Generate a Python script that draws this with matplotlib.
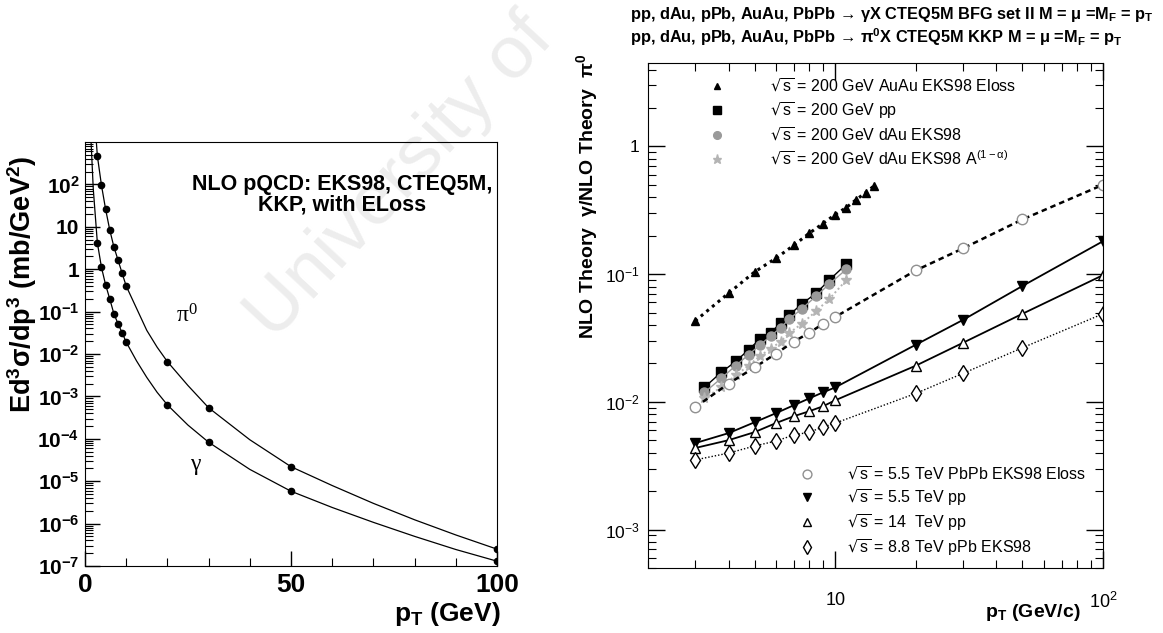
import matplotlib
matplotlib.use('Agg')
import matplotlib.pyplot as plt
from matplotlib.lines import Line2D
from matplotlib.ticker import FixedLocator, LogLocator, NullFormatter, MultipleLocator
import numpy as np

plt.rcParams['font.family'] = ['Liberation Sans', 'DejaVu Sans']
plt.rcParams['mathtext.default'] = 'regular'

# ---- left panel: spectra (points and curve) ----
pt_pts = [3, 4, 5, 6, 7, 8, 9, 10, 20, 30, 50, 100]
pi0_pts = [470, 95, 26, 8.5, 3.4, 1.66, 0.81, 0.40, 6.6e-3, 5.4e-4, 2.2e-5, 2.5e-7]
gam_pts = [4.2, 1.1, 0.43, 0.20, 0.09, 0.052, 0.032, 0.019, 6.3e-4, 8.3e-5, 5.8e-6, 1.3e-7]

pt_curve_pi0 = [2, 3, 4, 5, 6, 7, 8, 9, 10, 12.5, 15, 17.5, 20, 25, 30, 40, 50, 60, 70, 80, 90, 100]
pi0_curve = [1e4, 470, 95, 26, 8.5, 3.4, 1.66, 0.81, 0.40, 0.12, 0.036, 0.0145, 6.6e-3, 1.8e-3,
             5.4e-4, 9.5e-5, 2.2e-5, 7.9e-6, 3.0e-6, 1.23e-6, 5.4e-7, 2.5e-7]
pt_curve_gam = [1, 2, 3, 4, 5, 6, 7, 8, 9, 10, 12.5, 15, 17.5, 20, 25, 30, 40, 50, 60, 70, 80, 90, 100]
gam_curve = [1e4, 80, 4.2, 1.1, 0.43, 0.20, 0.09, 0.052, 0.032, 0.019, 6.9e-3, 2.8e-3, 1.25e-3,
             6.3e-4, 2.1e-4, 8.3e-5, 1.9e-5, 5.8e-6, 2.4e-6, 1.07e-6, 5.0e-7, 2.45e-7, 1.3e-7]

# ---- right panel: ratios NLO gamma / NLO pi0 ----
pt_auau = [3, 4, 5, 6, 7, 8, 9, 10, 11, 12, 13, 14]
r_auau = [0.043, 0.071, 0.104, 0.133, 0.168, 0.209, 0.249, 0.293, 0.332, 0.384, 0.435, 0.493]

pt_200 = [3.25, 3.75, 4.25, 4.75, 5.25, 5.75, 6.25, 6.75, 7.5, 8.5, 9.5, 11]
r_pp200 = [0.0130, 0.0170, 0.0207, 0.0256, 0.0312, 0.0347, 0.0416, 0.0480, 0.0584, 0.0711, 0.0898, 0.1197]
r_dau = [0.01186, 0.01524, 0.0192, 0.0234, 0.0280, 0.0329, 0.0380, 0.0447, 0.0534, 0.0675, 0.0836, 0.109]
r_dau_a = [0.01064, 0.0130, 0.0161, 0.0192, 0.0230, 0.0261, 0.0296, 0.0347, 0.0408, 0.0515, 0.0638, 0.0898]

pt_lhc = [3, 4, 5, 6, 7, 8, 9, 10, 20, 30, 50, 100]
r_pbpb = [0.00906, 0.0139, 0.0186, 0.0238, 0.0296, 0.0347, 0.0408, 0.0462, 0.107, 0.159, 0.268, 0.501]
r_pp55 = [0.00475, 0.00569, 0.00692, 0.00814, 0.00940, 0.01064, 0.01186, 0.01297, 0.0280, 0.0438, 0.0807, 0.181]
r_pp14 = [0.00435, 0.00501, 0.00579, 0.00681, 0.00771, 0.00844, 0.00923, 0.01028, 0.0192, 0.0290, 0.0489, 0.0982]
r_ppb = [0.00351, 0.00397, 0.00451, 0.00493, 0.00549, 0.00579, 0.00634, 0.00681, 0.01164, 0.0167, 0.0265, 0.0489]

left_yticks = [1e-7, 1e-6, 1e-5, 1e-4, 1e-3, 1e-2, 1e-1, 1, 10, 1e2]
left_ylabels = ['10$^{-7}$', '10$^{-6}$', '10$^{-5}$', '10$^{-4}$', '10$^{-3}$',
                '10$^{-2}$', '10$^{-1}$', '1', '10', '10$^{2}$']
right_yticks = [1e-3, 1e-2, 1e-1, 1]
right_ylabels = ['10$^{-3}$', '10$^{-2}$', '10$^{-1}$', '1']

W, H = 1163, 633
fig = plt.figure(figsize=(W / 100, H / 100), dpi=100)

# watermark of the scanned page
fig.text(400 / W, 1 - 178 / H, 'University of', rotation=47, color='#ededed',
         fontsize=54, ha='center', va='center', zorder=-1)

# ================= left panel =================
ax = fig.add_axes([85 / W, 1 - 566 / H, 412 / W, 424 / H])
ax.set_facecolor('none')
ax.plot(pt_curve_pi0, pi0_curve, color='black', lw=0.9)
ax.plot(pt_curve_gam, gam_curve, color='black', lw=0.9)
ax.plot(pt_pts, pi0_pts, 'o', color='black', ms=4.5)
ax.plot(pt_pts, gam_pts, 'o', color='black', ms=4.5)
ax.set_yscale('log')
ax.set_xlim(0, 100)
ax.set_ylim(1e-7, 1e3)
ax.yaxis.set_major_locator(FixedLocator(left_yticks))
ax.set_yticklabels(left_ylabels)
ax.yaxis.set_minor_locator(LogLocator(base=10, subs=np.arange(2, 10), numticks=20))
ax.yaxis.set_minor_formatter(NullFormatter())
ax.set_xticks([0, 50, 100])
ax.set_xticklabels(['0', '50', '100'])
ax.xaxis.set_minor_locator(MultipleLocator(10))
ax.tick_params(which='both', direction='in', top=False, right=False)
ax.tick_params(which='major', length=11, width=1)
ax.tick_params(which='minor', length=6, width=0.8)
ax.tick_params(axis='y', which='major', labelsize=15, pad=4)
ax.tick_params(axis='x', which='major', labelsize=19, pad=5)
for lab in ax.get_xticklabels() + ax.get_yticklabels():
    lab.set_fontweight('bold')
ax.set_ylabel(r'Ed$^3\sigma$/dp$^3$ (mb/GeV$^2$)', fontsize=19.5, fontweight='bold')
ax.yaxis.set_label_coords(-0.112, 0.665)
ax.set_xlabel('p$_T$ (GeV)', fontsize=19, fontweight='bold', loc='right')
ax.xaxis.set_label_coords(1.01, -0.08)
ax.text(0.625, 0.925, 'NLO pQCD: EKS98, CTEQ5M,\nKKP, with ELoss', transform=ax.transAxes,
        ha='center', va='top', fontsize=15.5, fontweight='bold', linespacing=1.0)
ax.text(0.248, 0.59, r'$\pi^0$', transform=ax.transAxes, fontsize=17,
        family='Liberation Serif', ha='center', va='center')
ax.text(0.27, 0.235, r'$\gamma$', transform=ax.transAxes, fontsize=17,
        family='Liberation Serif', ha='center', va='center')

# ================= right panel =================
bx = fig.add_axes([648 / W, 1 - 568 / H, 455 / W, 505 / H])
bx.set_facecolor('none')
bx.set_xscale('log')
bx.set_yscale('log')

dotted = (0, (1, 1.4))
h_auau, = bx.plot(pt_auau, r_auau, ls=dotted, lw=2.2, color='black', marker='^', ms=5.5)
h_pp200, = bx.plot(pt_200, r_pp200, ls='-', lw=1.0, color='black', marker='s', ms=6.5)
h_dau, = bx.plot(pt_200, r_dau, ls='-', lw=1.0, color='#9a9a9a', marker='o', ms=6.5)
h_daua, = bx.plot(pt_200, r_dau_a, ls=dotted, lw=1.4, color='#b4b4b4', marker='*', ms=8)
h_pbpb, = bx.plot(pt_lhc, r_pbpb, ls=(0, (2.2, 1.6)), lw=1.8, color='black', marker='o',
                  ms=7.5, mfc='white', mec='#909090', mew=1.0)
h_pp55, = bx.plot(pt_lhc, r_pp55, ls='-', lw=1.3, color='black', marker='v', ms=6.5)
h_pp14, = bx.plot(pt_lhc, r_pp14, ls='-', lw=1.3, color='black', marker='^', ms=7.5,
                  mfc='white', mec='black', mew=1.0)
h_ppb, = bx.plot(pt_lhc, r_ppb, ls=dotted, lw=1.0, color='black', marker='d', ms=8,
                 mfc='white', mec='black', mew=1.0)

bx.set_xlim(2, 100)
bx.set_ylim(5e-4, 4.5)
bx.yaxis.set_major_locator(FixedLocator(right_yticks))
bx.set_yticklabels(right_ylabels)
bx.yaxis.set_minor_locator(LogLocator(base=10, subs=np.arange(2, 10), numticks=20))
bx.yaxis.set_minor_formatter(NullFormatter())
bx.xaxis.set_major_locator(FixedLocator([10, 100]))
bx.set_xticklabels(['10', '10$^2$'])
bx.xaxis.set_minor_locator(LogLocator(base=10, subs=np.arange(2, 10), numticks=20))
bx.xaxis.set_minor_formatter(NullFormatter())
bx.tick_params(which='both', direction='in', top=True, right=True)
bx.tick_params(which='major', length=12, width=1)
bx.tick_params(which='minor', length=6, width=0.8)
bx.tick_params(axis='y', which='major', labelsize=12.5, pad=6)
bx.tick_params(axis='x', which='major', labelsize=13, pad=17)

bx.set_ylabel(r'NLO Theory  $\gamma$/NLO Theory  $\pi^0$', fontsize=14, fontweight='bold')
bx.yaxis.set_label_coords(-0.106, 0.735)
bx.set_xlabel('p$_T$ (GeV/c)', fontsize=14, fontweight='bold', loc='right')
bx.xaxis.set_label_coords(0.95, -0.068)

fig.text(630 / W, 1 - 14 / H,
         'pp, dAu, pPb, AuAu, PbPb → γX CTEQ5M BFG set II M = μ =M$_F$ = p$_T$',
         fontsize=11.8, fontweight='bold', ha='left', va='center')
fig.text(630 / W, 1 - 37 / H,
         'pp, dAu, pPb, AuAu, PbPb → π$^0$X CTEQ5M KKP M = μ =M$_F$ = p$_T$',
         fontsize=11.8, fontweight='bold', ha='left', va='center')


def marker_handle(h):
    return Line2D([], [], ls='none', marker=h.get_marker(), ms=h.get_markersize() * 0.85,
                  color=h.get_color(), mfc=h.get_markerfacecolor(), mec=h.get_markeredgecolor(),
                  mew=h.get_markeredgewidth())


sq = r'$\sqrt{s}$'
leg1 = bx.legend([marker_handle(h) for h in [h_auau, h_pp200, h_dau, h_daua]],
                 [sq + ' = 200 GeV AuAu EKS98 Eloss', sq + ' = 200 GeV pp',
                  sq + ' = 200 GeV dAu EKS98', sq + r' = 200 GeV dAu EKS98 A$^{(1-\alpha)}$'],
                 loc='upper left', bbox_to_anchor=(0.134, 0.972), frameon=False, fontsize=11.5,
                 handlelength=1.0, handletextpad=2.8, labelspacing=0.32, borderpad=0,
                 borderaxespad=0)
bx.add_artist(leg1)
bx.legend([marker_handle(h) for h in [h_pbpb, h_pp55, h_pp14, h_ppb]],
          [sq + ' = 5.5 TeV PbPb EKS98 Eloss', sq + ' = 5.5 TeV pp',
           sq + ' = 14  TeV pp', sq + ' = 8.8 TeV pPb EKS98'],
          loc='upper left', bbox_to_anchor=(0.332, 0.204), frameon=False, fontsize=11.5,
          handlelength=1.0, handletextpad=2.0, labelspacing=0.25, borderpad=0,
          borderaxespad=0)

fig.savefig('out.png', dpi=100)
